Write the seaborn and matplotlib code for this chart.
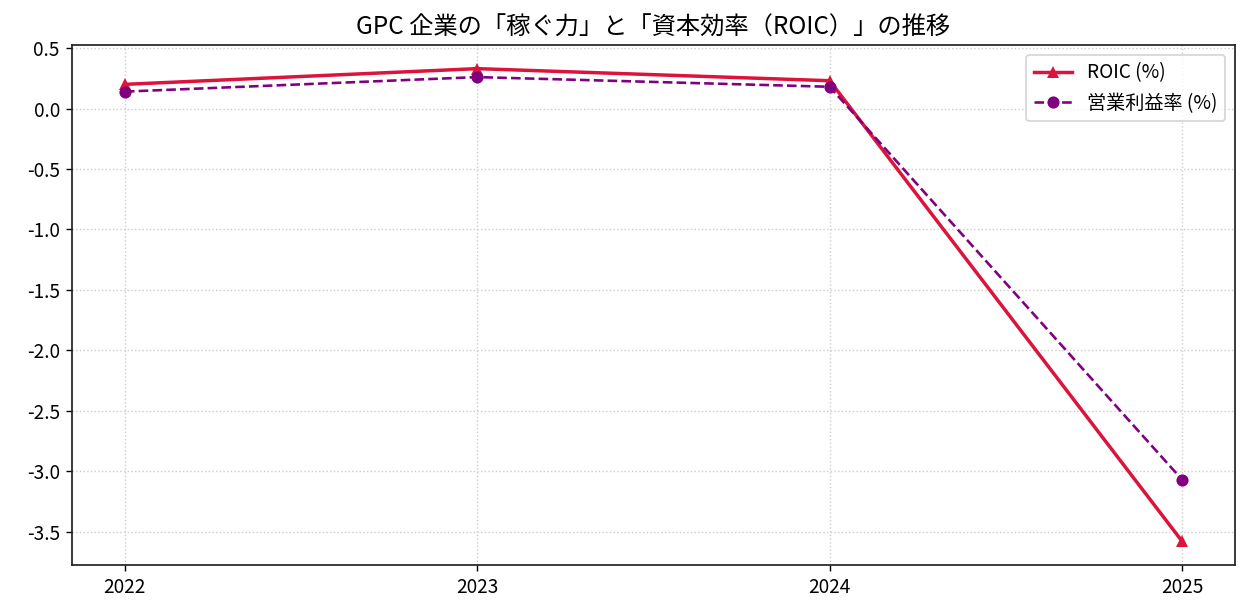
import matplotlib
matplotlib.use("Agg")
import matplotlib.pyplot as plt
import numpy as np
import pandas as pd
import seaborn as sns

# %% data
years = [2022, 2023, 2024, 2025]
roic = [0.20, 0.33, 0.23, -3.58]
op_margin = [0.14, 0.26, 0.18, -3.07]

plt.rcParams['font.family'] = ['Noto Sans CJK JP', 'DejaVu Sans']
plt.rcParams['axes.unicode_minus'] = False
plt.rcParams['font.size'] = 11

df = pd.DataFrame({"year": years, "ROIC (%)": roic, "営業利益率 (%)": op_margin})

# %% figure
fig, ax = plt.subplots(figsize=(9.992, 4.928), dpi=125)
fig.subplots_adjust(left=72/1249, right=1235/1249, top=1-45/616, bottom=1-565/616)

sns.lineplot(data=df, x="year", y="ROIC (%)", marker="^", color="crimson",
             linewidth=2, markersize=7, markeredgewidth=0, label="ROIC (%)", ax=ax)
sns.lineplot(data=df, x="year", y="営業利益率 (%)", marker="o", color="purple",
             linestyle="--", linewidth=1.5, markersize=7, markeredgewidth=0,
             label="営業利益率 (%)", ax=ax)

ax.set_xticks(years)
ax.set_xticklabels([str(y) for y in years])
ax.set_xlabel("")
ax.set_ylabel("")
ax.grid(True, linestyle=":", color="#cccccc")
for s in ax.spines.values():
    s.set_color("#222222")
    s.set_linewidth(1.0)
ax.set_title("GPC 企業の「稼ぐ力」と「資本効率（ROIC）」の推移", fontsize=14)
ax.legend(loc="upper right")

fig.savefig("out.png", dpi=125)
